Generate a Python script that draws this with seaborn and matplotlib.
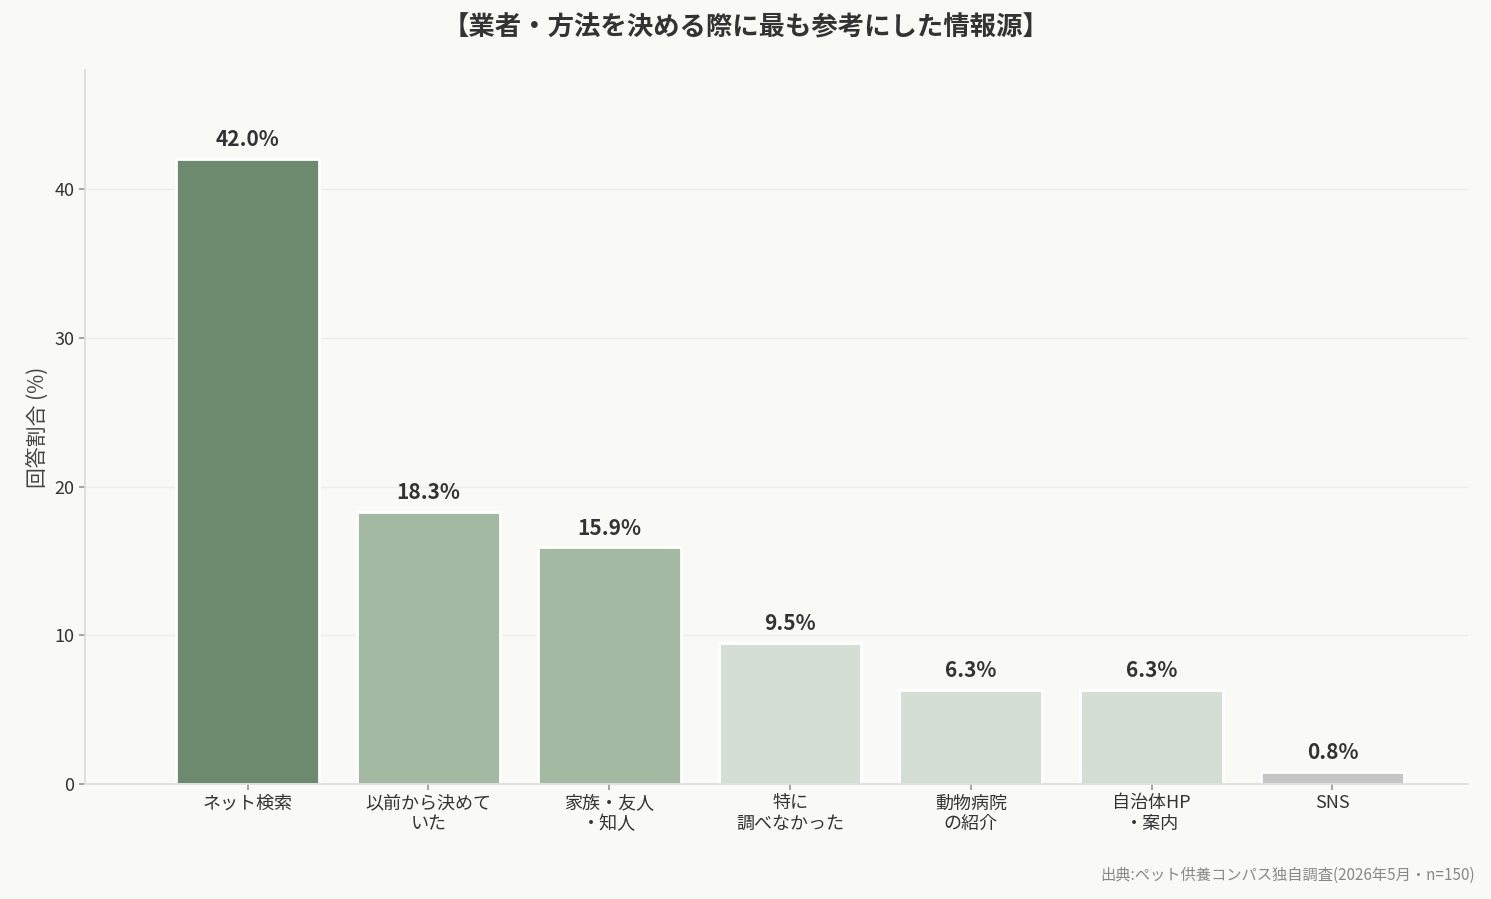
import matplotlib
matplotlib.use("Agg")
import matplotlib.pyplot as plt
import seaborn as sns
import pandas as pd

categories = ["ネット検索", "以前から決めて\nいた", "家族・友人\n・知人", "特に\n調べなかった",
              "動物病院\nの紹介", "自治体HP\n・案内", "SNS"]
values = [42.0, 18.3, 15.9, 9.5, 6.3, 6.3, 0.8]
bar_colors = ["#6a8f69", "#9fbd9e", "#9fbd9e", "#d4dfd4", "#d4dfd4", "#d4dfd4", "#c6c6c6"]

sns.set_theme(style="white")
plt.rcParams['font.family'] = ['Noto Sans CJK JP', 'DejaVu Sans']
bg = "#f9faf6"

fig = plt.figure(figsize=(14.91, 8.99), dpi=100, facecolor=bg)
ax = fig.add_axes([85/1491, 1-784/899, (1468-85)/1491, (784-70)/899])
ax.set_facecolor(bg)

df = pd.DataFrame({"cat": categories, "val": values})
sns.barplot(data=df, x="cat", y="val", hue="cat", palette=bar_colors, legend=False,
            width=0.79, edgecolor="white", linewidth=2, ax=ax)

for i, v in enumerate(values):
    ax.text(i, v + 0.6, f"{v:.1f}%", ha="center", va="bottom", fontsize=15,
            fontweight="bold", color="#333333")

ax.set_ylim(0, 48)
ax.set_xlim(-0.9, 6.75)
ax.set_yticks([0, 10, 20, 30, 40])
ax.grid(axis="y", color="#ececec", linewidth=1)
ax.set_axisbelow(True)
ax.set_xlabel("")
ax.set_ylabel("回答割合 (%)", fontsize=15, color="#444444")
ax.tick_params(axis="both", labelsize=13, colors="#333333", length=4, color="#999999")
ax.tick_params(axis="x", bottom=True)
ax.tick_params(axis="y", left=True)
for s in ["top", "right"]:
    ax.spines[s].set_visible(False)
for s in ["left", "bottom"]:
    ax.spines[s].set_color("#dddddd")

fig.text(0.5, 1-28/899, "【業者・方法を決める際に最も参考にした情報源】", ha="center", va="center",
         fontsize=19, fontweight="bold", color="#333333")
fig.text(1475/1491, 1-875/899, "出典:ペット供養コンパス独自調査(2026年5月・n=150)", ha="right",
         va="center", fontsize=11, color="#888888")

fig.savefig("out.png", dpi=100, facecolor=bg)
